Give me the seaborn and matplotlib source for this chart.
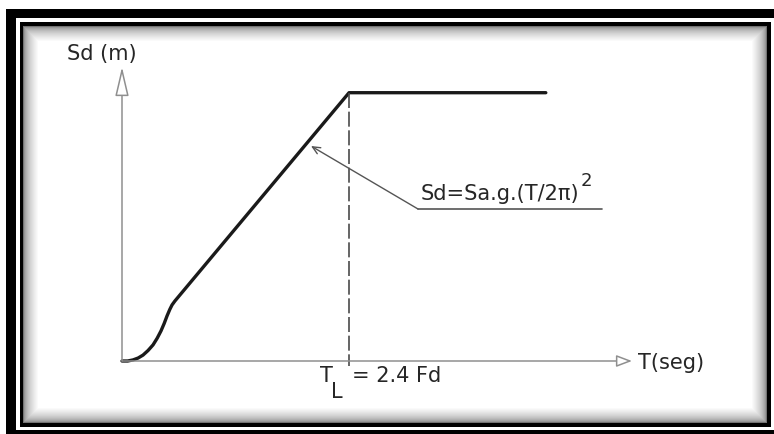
import matplotlib
matplotlib.use("Agg")
import matplotlib.pyplot as plt
from matplotlib.patches import Rectangle
import numpy as np
import pandas as pd
import seaborn as sns

# ---------------- data ----------------
T_vals = [0.0, 0.06, 0.116, 0.170, 0.222, 0.275, 0.328, 0.372, 0.412, 0.446, 0.476, 0.505, 0.529, 0.560, 2.4, 4.48]   # T (s)
Sd_vals = [0.0, 0.0, 0.004, 0.011, 0.022, 0.039, 0.060, 0.085, 0.112, 0.140, 0.168, 0.192, 0.209, 0.224, 1.0, 1.0]   # Sd (m)
T_L = 2.4
x_label = "T(seg)"
y_label = "Sd (m)"
formula_text = "Sd=Sa.g.(T/2π)"
formula_exp = "2"
tl_main = "T"
tl_sub = "L"
tl_value = "= 2.4 Fd"

# ---------------- layout ----------------
W, H = 774, 434
PX_T, PX_SD = 94.6, 268.3      # pixels per data unit
OX, OY = 122, 361              # origin pixel

sns.set_style("white")
plt.rcParams["font.family"] = ["DejaVu Sans"]

fig = plt.figure(figsize=(W / 100, H / 100), dpi=100)
fig.patch.set_facecolor("white")
ax = fig.add_axes([0, 0, 1, 1])
ax.patch.set_alpha(0)
ax.set_xlim(-OX / PX_T, (W - OX) / PX_T)
ax.set_ylim(-(H - OY) / PX_SD, OY / PX_SD)
ax.set_axis_off()


def px(x, y):
    """pixel (top-left origin) -> data coords"""
    return (x - OX) / PX_T, (OY - y) / PX_SD


def rect_px(x0, y0, x1, y1, **kw):
    return Rectangle((x0 / W, 1 - y1 / H), (x1 - x0) / W, (y1 - y0) / H,
                     transform=fig.transFigure, **kw)


# ---------------- frame ----------------
z = -100
for (x0, y0, x1, y1) in [(6, 9, 774, 18), (6, 9, 16, 434), (6, 430, 774, 434)]:
    fig.add_artist(rect_px(x0, y0, x1, y1, fc="black", ec="none", zorder=z))
fig.add_artist(rect_px(20, 22, 771, 427, fc="black", ec="none", zorder=z))
N = 16
for i in range(N):
    g = 0.45 + 0.55 * (i / (N - 1)) ** 0.5
    fig.add_artist(rect_px(23 + i, 26 + i, 767 - i, 423 - i,
                           fc=(g, g, g), ec="none", zorder=z + 1 + i))

# ---------------- axes arrows ----------------
ax.annotate("", xy=px(OX, 67), xytext=(0, 0),
            arrowprops=dict(arrowstyle="-|>,head_length=1.8,head_width=0.42",
                            fc="white", ec="#8f8f8f", lw=1.1,
                            shrinkA=0, shrinkB=0, mutation_scale=10))
ax.annotate("", xy=px(632, OY), xytext=(0, 0),
            arrowprops=dict(arrowstyle="-|>,head_length=0.95,head_width=0.36",
                            fc="white", ec="#8f8f8f", lw=1.1,
                            shrinkA=0, shrinkB=0, mutation_scale=10))

# ---------------- curve ----------------
df = pd.DataFrame({"T": T_vals, "Sd": Sd_vals})
sns.lineplot(data=df, x="T", y="Sd", ax=ax, color="#1a1a1a", lw=2.4,
             estimator=None, sort=False)

# dashed line at T_L
ax.plot([T_L, T_L], [max(Sd_vals), px(0, 366)[1]], color="#4a4a4a",
        lw=1.2, dashes=(9, 2.2))

# ---------------- annotation ----------------
ax.plot([px(418, 0)[0], px(602, 0)[0]], [px(0, 209)[1]] * 2, color="#555555", lw=1.2)
ax.annotate("", xy=px(311, 146), xytext=px(418, 209),
            arrowprops=dict(arrowstyle="->,head_length=0.55,head_width=0.25",
                            color="#555555", lw=1.0, shrinkA=0, shrinkB=0,
                            mutation_scale=10))

tc = "#262626"
fs = 15
ax.text(*px(421, 200), formula_text, fontsize=fs, color=tc, va="baseline", ha="left")
ax.text(*px(581, 186), formula_exp, fontsize=13, color=tc, va="baseline", ha="left")
ax.text(*px(67, 60), y_label, fontsize=fs, color=tc, va="baseline", ha="left")
ax.text(*px(638, 369), x_label, fontsize=fs, color=tc, va="baseline", ha="left")
ax.text(*px(320, 382), tl_main, fontsize=fs, color=tc, va="baseline", ha="left")
ax.text(*px(331, 398), tl_sub, fontsize=fs, color=tc, va="baseline", ha="left")
ax.text(*px(352, 382), tl_value, fontsize=fs, color=tc, va="baseline", ha="left")

fig.savefig("out.png", dpi=100)
